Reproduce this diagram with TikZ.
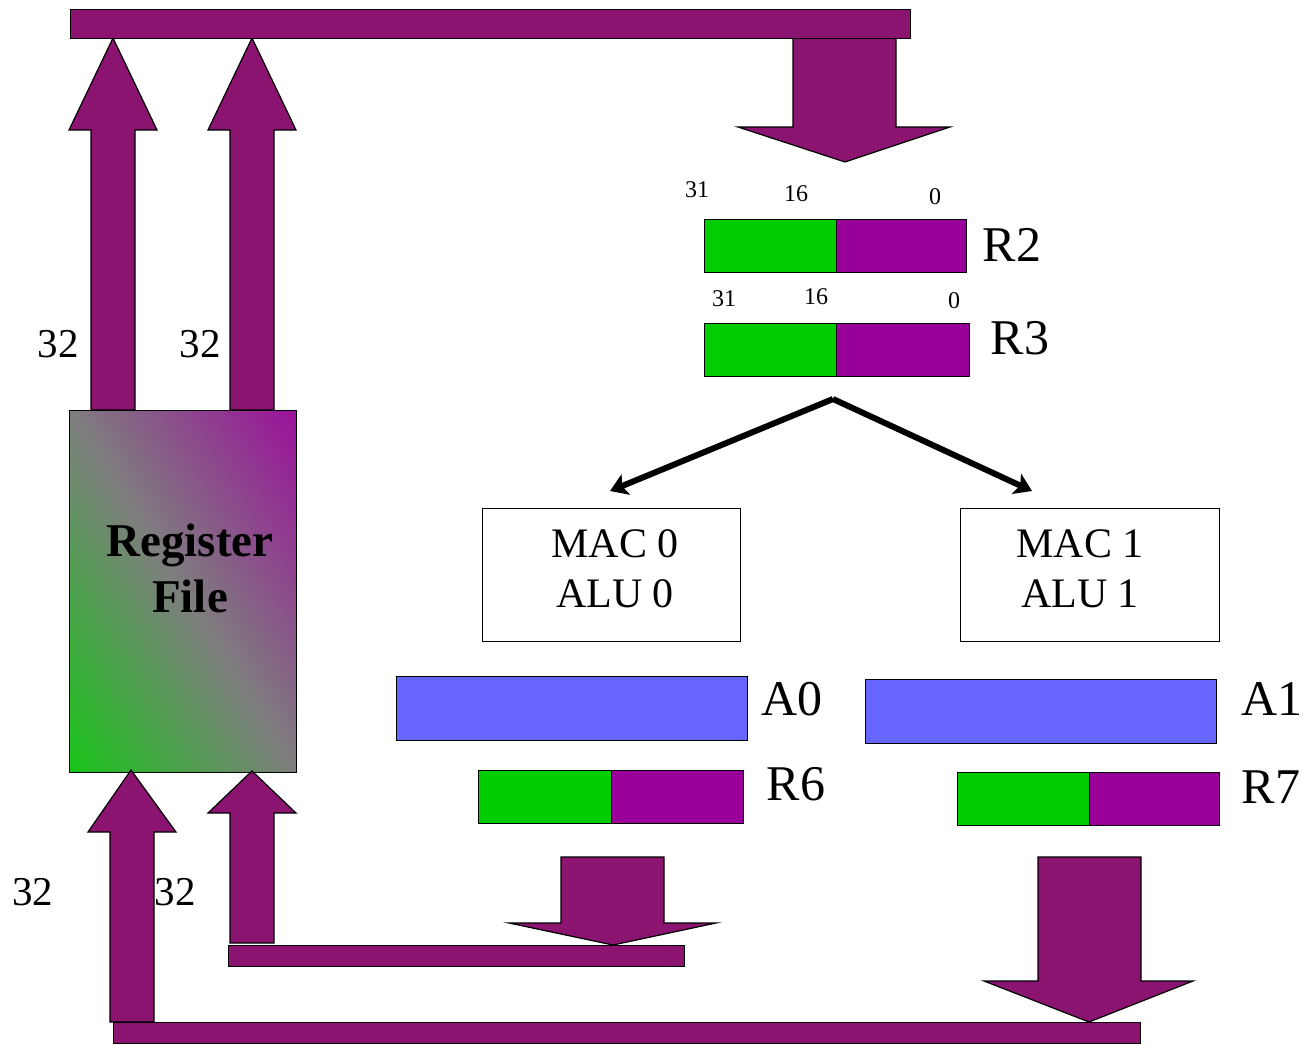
\documentclass[tikz,border=0pt]{standalone}
\usepackage{fontspec}
\setmainfont{Liberation Serif}
\usetikzlibrary{arrows.meta}
\definecolor{bus}{HTML}{8B1470}
\definecolor{segg}{HTML}{00CC00}
\definecolor{segp}{HTML}{990099}
\definecolor{acc}{HTML}{6666FF}
\definecolor{rfgreen}{HTML}{08D008}
\definecolor{rfpurple}{HTML}{A000A0}
\definecolor{rfmid}{HTML}{7E7E7E}
\pgfdeclareverticalshading{rfshade}{100bp}{color(0bp)=(rfgreen); color(10bp)=(rfgreen); color(50bp)=(rfmid); color(90bp)=(rfpurple); color(100bp)=(rfpurple)}
\tikzset{
  busshape/.style={fill=bus, draw=black, line width=1.2pt, line join=miter},
  box/.style 2 args={minimum width=#1pt, minimum height=#2pt, anchor=north west,
     inner sep=0pt, outer sep=0pt, draw=black, line width=1pt},
  lbl/.style={inner sep=0pt, font=\fontsize{41}{46}\selectfont},
  big/.style={inner sep=0pt, font=\fontsize{50}{56}\selectfont},
  small/.style={inner sep=0pt, font=\fontsize{24}{28}\selectfont},
  unit/.style={inner sep=0pt, align=center, font=\fontsize{42}{50}\selectfont},
  flow/.style={line width=6pt, -{Stealth[length=17pt,width=22pt,inset=4pt]}}
}
% block arrow: shaftL shaftR headL headR tipx tipy headbase shaftend
\newcommand\blkup[8]{\draw[busshape] (#1,#8) -- (#1,#7) -- (#3,#7) -- (#5,#6) -- (#4,#7) -- (#2,#7) -- (#2,#8) -- cycle;}
\newcommand\blkdown[8]{\draw[busshape] (#1,#8) -- (#1,#7) -- (#3,#7) -- (#5,#6) -- (#4,#7) -- (#2,#7) -- (#2,#8) -- cycle;}
\begin{document}
\begin{tikzpicture}[x=1pt,y=-1pt]
\useasboundingbox (0,0) rectangle (1303,1044);
% top bus and arrows
\blkup{91}{135}{69}{157}{113}{38}{130}{410}
\blkup{230}{274}{208}{296}{252}{38}{130}{410}
\blkdown{793}{896}{738}{950}{845}{162}{127}{37}
\node[box={840}{29}, fill=bus] (topbus) at (70,9) {};
% register file
\node[box={227}{362}, shade, shading=rfshade, shading angle=-58] (rf) at (69,410) {};
\node[inner sep=0pt, align=center, font=\fontsize{47}{56}\selectfont\bfseries] (rft) at (190,568) {Register\\File};
% labels 32
\node[lbl] (n1) at (58,344) {32};
\node[lbl] (n2) at (200,344) {32};
\node[lbl] (n3) at (33,892) {32};
\node[lbl] (n4) at (175,892) {32};
% R2
\node[box={132}{53}, fill=segg] (r2a) at (704,219) {};
\node[box={130}{53}, fill=segp] (r2b) at (836,219) {};
\node[big] (r2l) at (1012,245) {R2};
\node[small] (r2s31) at (697,190) {31};
\node[small] (r2s16) at (796,194) {16};
\node[small] (r2s0) at (935,197) {0};
% R3
\node[box={132}{53}, fill=segg] (r3a) at (704,323) {};
\node[box={133}{53}, fill=segp] (r3b) at (836,323) {};
\node[big] (r3l) at (1020,338) {R3};
\node[small] (r3s31) at (724,299) {31};
\node[small] (r3s16) at (816,297) {16};
\node[small] (r3s0) at (954,301) {0};
% MAC boxes
\node[box={258}{133}] (mac0) at (482,508) {};
\node[unit] (mac0t) at (615,569) {MAC 0\\ALU 0};
\node[box={259}{133}] (mac1) at (960,508) {};
\node[unit] (mac1t) at (1080,569) {MAC 1\\ALU 1};
% arrows from R3
\coordinate (split) at (833,399);
\coordinate (to0) at (610,491);
\coordinate (to1) at (1032,491);
\draw[flow] (split) -- (to0);
\draw[flow] (split) -- (to1);
% accumulators
\node[box={351}{64}, fill=acc] (a0) at (396,676) {};
\node[big] (a0l) at (792,699) {A0};
\node[box={351}{64}, fill=acc] (a1) at (865,679) {};
\node[big] (a1l) at (1272,699) {A1};
% R6 R7
\node[box={133}{53}, fill=segg] (r6a) at (478,770) {};
\node[box={132}{53}, fill=segp] (r6b) at (611,770) {};
\node[big] (r6l) at (796,784) {R6};
\node[box={132}{53}, fill=segg] (r7a) at (957,772) {};
\node[box={130}{53}, fill=segp] (r7b) at (1089,772) {};
\node[big] (r7l) at (1271,787) {R7};
% bottom arrows
\blkdown{561}{664}{509}{716}{613}{945}{923}{857}
\node[box={456}{21}, fill=bus] (bus2) at (228,945) {};
\blkdown{1038}{1141}{984}{1193}{1089}{1022}{981}{857}
\blkup{110}{154}{88}{176}{131}{770}{832}{1022}
\blkup{230}{274}{208}{296}{252}{771}{813}{943}
\node[box={1027}{21}, fill=bus] (bus3) at (113,1022) {};
\end{tikzpicture}
\end{document}
